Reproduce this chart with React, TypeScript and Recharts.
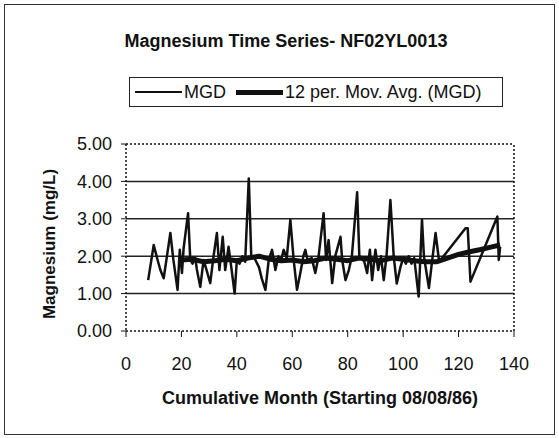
import { Line, LineChart, ReferenceLine, XAxis, YAxis } from "recharts";

// 月次マグネシウム濃度 (mg/L)
const months = [
  8, 10, 11.4, 12.4, 13.6, 16, 17.1, 18.6, 19.4, 20.2, 20.8, 22.4, 23.2, 24, 25,
  25.6, 26.8, 28, 29, 30.4, 31.5, 32.8, 33.7, 34.9, 35.8, 37, 38, 39.2, 40, 41,
  42, 43, 44.3, 45.2, 46, 47, 48, 49, 50.3, 51.5, 52.7, 53.9, 55, 56, 56.9, 58,
  59.3, 60.5, 61.7, 62.9, 64, 64.7, 65.5, 67, 68.3, 69.5, 71.3, 72.2, 73.1, 74.4,
  75.5, 77.4, 78, 79.2, 80.4, 81.5, 83.4, 84.2, 85, 86, 87, 88, 88.8, 90, 91, 92,
  93, 94, 95.4, 96.6, 97.7, 99, 100, 101, 102, 103, 104, 105.6, 106.8, 107.5,
  109.3, 110.5, 111.7, 113, 122.5, 123.3, 124.3, 134, 134.5, 135,
];
const mgd = [
  1.36, 2.3, 1.9, 1.63, 1.41, 2.62, 1.9, 1.1, 2.17, 1.55, 2.22, 3.15, 1.9, 1.8,
  1.95, 1.63, 1.18, 1.9, 1.65, 1.28, 1.95, 2.62, 1.63, 2.52, 1.63, 2.25, 1.7, 1.0,
  1.9, 1.8, 2.0, 1.85, 4.08, 1.99, 2.0, 1.85, 1.7, 1.4, 1.1, 1.9, 2.17, 1.63, 2.0,
  1.9, 2.17, 1.95, 2.97, 1.9, 1.1, 1.55, 2.0, 2.17, 1.9, 1.95, 1.55, 2.0, 3.15,
  1.9, 2.43, 1.28, 2.0, 2.52, 1.9, 1.36, 1.63, 2.0, 3.71, 1.99, 1.95, 1.85, 1.55,
  2.17, 1.36, 2.17, 1.63, 2.0, 1.36, 2.0, 3.5, 1.99, 1.27, 1.7, 1.95, 1.8, 2.0,
  1.8, 1.95, 0.92, 2.97, 2.0, 1.15, 1.9, 2.62, 1.85, 2.75, 2.75, 1.32, 3.06, 1.9,
  2.25,
];

// 12期間移動平均
const avgMonths = [
  20, 24, 28, 32, 36, 40, 44, 48, 52, 56, 60, 64, 68, 72, 76, 80, 84, 88, 92, 96,
  100, 104, 108, 112, 116, 120, 124, 128, 132, 135,
];
const avgValues = [
  1.9, 1.92, 1.85, 1.88, 1.92, 1.88, 1.95, 2.0, 1.92, 1.88, 1.9, 1.85, 1.88, 1.95,
  1.92, 1.88, 1.95, 1.92, 1.88, 1.95, 1.92, 1.88, 1.85, 1.85, 1.95, 2.05, 2.12,
  2.18, 2.25, 2.3,
];

const xTicks = [0, 20, 40, 60, 80, 100, 120, 140];
const yTicks = [0, 1, 2, 3, 4, 5];
const gridValues = [1, 2, 3, 4];

const FONT = '"Liberation Sans", Arial, sans-serif';
const INK = "#111";

const mgdData = months.map((m, i) => ({ month: m, value: mgd[i] }));
const avgData = avgMonths.map((m, i) => ({ month: m, value: avgValues[i] }));

export default function App() {
  return (
    <div
      style={{
        position: "absolute",
        left: 0,
        top: 0,
        width: 559,
        height: 438,
        background: "#fff",
        fontFamily: FONT,
        color: INK,
      }}
    >
      <div
        style={{
          position: "absolute",
          left: 4,
          top: 4,
          width: 549,
          height: 429,
          border: "1px solid #333",
        }}
      />
      <div
        style={{
          position: "absolute",
          left: 0,
          width: 572,
          top: 31,
          textAlign: "center",
          fontSize: 18,
          fontWeight: "bold",
        }}
      >
        Magnesium Time Series- NF02YL0013
      </div>

      {/* 凡例 */}
      <div
        style={{
          position: "absolute",
          left: 129,
          top: 77,
          width: 372,
          height: 28,
          border: "1px solid #222",
          display: "flex",
          alignItems: "center",
          fontSize: 18,
          whiteSpace: "nowrap",
        }}
      >
        <span style={{ display: "inline-block", width: 47, height: 2, background: INK, marginLeft: 5 }} />
        <span style={{ marginLeft: 2 }}>MGD</span>
        <span style={{ display: "inline-block", width: 47, height: 5, background: INK, marginLeft: 10 }} />
        <span style={{ marginLeft: 2 }}>12 per. Mov. Avg. (MGD)</span>
      </div>

      <div
        style={{
          position: "absolute",
          left: 50 - 90,
          top: 245 - 11,
          width: 180,
          textAlign: "center",
          fontSize: 17,
          fontWeight: "bold",
          transform: "rotate(-90deg)",
        }}
      >
        Magnesium (mg/L)
      </div>
      <div
        style={{
          position: "absolute",
          left: 120,
          width: 400,
          top: 388,
          textAlign: "center",
          fontSize: 18,
          fontWeight: "bold",
        }}
      >
        Cumulative Month (Starting 08/08/86)
      </div>

      <div style={{ position: "absolute", left: 0, top: 0 }}>
        <LineChart
          width={559}
          height={438}
          margin={{ top: 144, right: 45, bottom: 0, left: 0 }}
        >
          <XAxis
            dataKey="month"
            type="number"
            domain={[0, 140]}
            ticks={xTicks}
            height={107}
            tickSize={6}
            tickMargin={20}
            axisLine={{ stroke: INK, strokeWidth: 1.5, strokeDasharray: "2 2" }}
            tickLine={{ stroke: INK }}
            tick={{ fontSize: 18, fill: INK, fontFamily: FONT }}
            allowDuplicatedCategory={false}
          />
          <YAxis
            type="number"
            domain={[0, 5]}
            ticks={yTicks}
            width={126}
            tickSize={5}
            tickMargin={9}
            tickFormatter={(v: number) => v.toFixed(2)}
            axisLine={{ stroke: INK, strokeWidth: 1.5, strokeDasharray: "2 2" }}
            tickLine={{ stroke: INK }}
            tick={{ fontSize: 18, fill: INK, fontFamily: FONT }}
          />
          {gridValues.map((v) => (
            <ReferenceLine key={v} y={v} stroke="#222" strokeWidth={1.5} />
          ))}
          <ReferenceLine y={5} stroke={INK} strokeWidth={1.5} strokeDasharray="2 2" />
          <ReferenceLine x={140} stroke={INK} strokeWidth={1.5} strokeDasharray="2 2" />
          <Line
            data={mgdData}
            dataKey="value"
            type="linear"
            stroke={INK}
            strokeWidth={2.5}
            strokeLinejoin="round"
            dot={false}
            isAnimationActive={false}
          />
          <Line
            data={avgData}
            dataKey="value"
            type="linear"
            stroke={INK}
            strokeWidth={5}
            strokeLinejoin="round"
            dot={false}
            isAnimationActive={false}
          />
        </LineChart>
      </div>
    </div>
  );
}
